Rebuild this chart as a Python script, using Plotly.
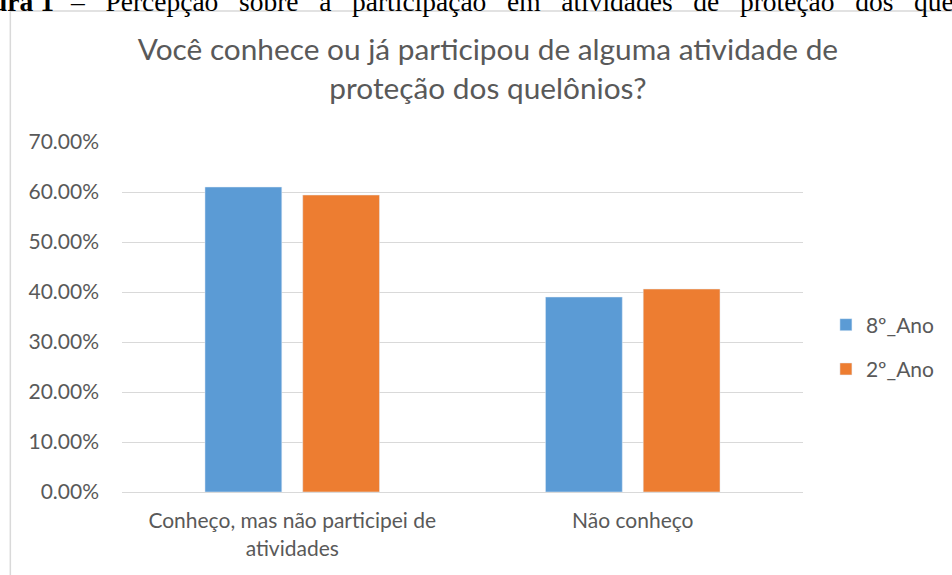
import plotly.graph_objects as go

categories = ["Conheço, mas não participei de<br>atividades", "Não conheço"]
series_names = ["8º_Ano", "2º_Ano"]
values_8ano = [0.61, 0.39]
values_2ano = [0.594, 0.406]
tick_vals = [0, 0.1, 0.2, 0.3, 0.4, 0.5, 0.6, 0.7]
tick_text = ["0.00%", "10.00%", "20.00%", "30.00%", "40.00%", "50.00%", "60.00%", "70.00%"]
title_text = "Você conhece ou já participou de alguma atividade de<br>proteção dos quelônios?"
caption_label = "ura 1"
caption_words = ["–", "Percepção", "sobre", "a", "participação", "em", "atividades",
                 "de", "proteção", "dos", "quelônios"]

FONT = "Lato, 'Open Sans', sans-serif"
GRAY = "#595959"
W, H = 952, 575
L, R, T, B = 122, 147, 142, 83
PW, PH = W - L - R, H - T - B

def px(x):
    return (x - L) / PW

def py(y):
    return 1 - (y - T) / PH

fig = go.Figure()
fig.add_trace(go.Bar(x=categories, y=values_8ano, name=series_names[0], legendgroup="a",
                     marker=dict(color="#5B9BD5")))
fig.add_trace(go.Bar(x=categories, y=values_2ano, name=series_names[1], legendgroup="b",
                     marker=dict(color="#ED7D31")))

fig.update_layout(
    width=W, height=H,
    margin=dict(l=L, r=R, t=T, b=B),
    paper_bgcolor="white", plot_bgcolor="white",
    barmode="group", bargap=0.426, bargroupgap=0.214,
    font=dict(family=FONT, color=GRAY, size=21),
    title=dict(text=title_text, x=px(489), xanchor="center", xref="paper",
               y=1 - 60 / H, yanchor="top",
               font=dict(family=FONT, size=29.8, color=GRAY)),
    legend=dict(x=px(828), xanchor="left", y=py(347), yanchor="middle",
                font=dict(size=21, color=GRAY), tracegroupgap=14,
                bgcolor="rgba(0,0,0,0)"),
    xaxis=dict(showgrid=False, showline=True, linecolor="#D9D9D9", linewidth=1,
               ticks="", ticklabelstandoff=10,
               tickfont=dict(size=21, color=GRAY), fixedrange=True),
    yaxis=dict(range=[0, 0.7], tickvals=tick_vals, ticktext=tick_text,
               showgrid=True, gridcolor="#D9D9D9", gridwidth=1,
               zeroline=False, showline=False, ticks="",
               ticklabelstandoff=22, fixedrange=True,
               tickfont=dict(size=21, color=GRAY)),
)

# outer chart border (cut off at right/bottom in the reference)
fig.add_shape(type="rect", xref="paper", yref="paper",
              x0=px(10), x1=px(980), y0=py(600), y1=py(11),
              line=dict(color="#D9D9D9", width=1.5), fillcolor="rgba(0,0,0,0)", layer="below")

# cut-off figure caption at top (justified text in the source document)
cap_font = dict(family="Liberation Serif, serif", size=27.5, color="black")
fig.add_annotation(text="<b>" + caption_label + "</b>",
                   xref="paper", yref="paper", x=px(-10), xanchor="left",
                   y=py(19), yanchor="bottom", showarrow=False, align="left",
                   font=cap_font)
fig.add_annotation(text=" &nbsp;&nbsp;".join(caption_words),
                   xref="paper", yref="paper", x=px(68), xanchor="left",
                   y=py(19), yanchor="bottom", showarrow=False, align="left",
                   font=cap_font)

fig.write_html("out.html", config={"displayModeBar": False},
               post_script="document.body.style.margin='0px';")
